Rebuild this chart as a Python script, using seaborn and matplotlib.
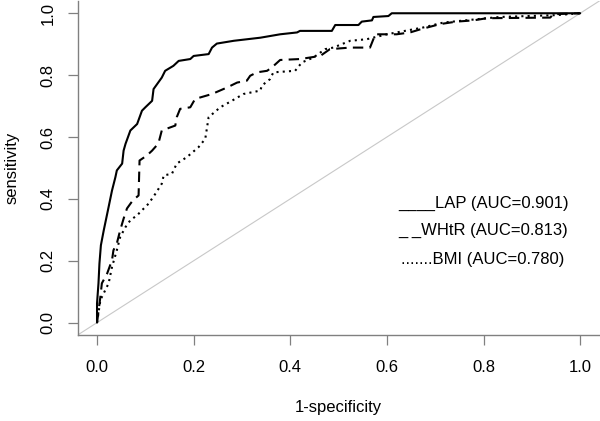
import pandas as pd
import matplotlib
matplotlib.use("Agg")
import matplotlib.pyplot as plt
import seaborn as sns

# ROC points (1-specificity, sensitivity)
lap_fpr = [0, 0, 0.003, 0.005, 0.008, 0.014, 0.024, 0.031, 0.038, 0.041, 0.052, 0.055,
           0.059, 0.069, 0.083, 0.093, 0.100, 0.114, 0.117, 0.134, 0.141, 0.158, 0.169,
           0.193, 0.200, 0.231, 0.238, 0.248, 0.283, 0.338, 0.379, 0.414, 0.420, 0.486,
           0.493, 0.541, 0.548, 0.569, 0.572, 0.603, 0.610, 1.0]
lap_tpr = [0, 0.062, 0.127, 0.191, 0.250, 0.299, 0.374, 0.427, 0.470, 0.492, 0.514, 0.556,
           0.578, 0.621, 0.642, 0.685, 0.696, 0.717, 0.755, 0.792, 0.814, 0.830, 0.846,
           0.852, 0.862, 0.868, 0.889, 0.902, 0.911, 0.921, 0.932, 0.938, 0.943, 0.943,
           0.962, 0.962, 0.973, 0.977, 0.988, 0.991, 1.0, 1.0]

whtr_fpr = [0, 0.007, 0.010, 0.021, 0.031, 0.034, 0.041, 0.048, 0.055, 0.062, 0.074, 0.086,
            0.088, 0.103, 0.114, 0.127, 0.134, 0.162, 0.165, 0.172, 0.193, 0.203, 0.238,
            0.269, 0.290, 0.310, 0.317, 0.331, 0.352, 0.362, 0.379, 0.420, 0.462, 0.482,
            0.524, 0.565, 0.576, 0.620, 0.648, 0.669, 0.710, 0.744, 0.779, 0.807, 0.938,
            0.944, 1.0]
whtr_tpr = [0, 0.084, 0.127, 0.159, 0.202, 0.234, 0.256, 0.299, 0.336, 0.369, 0.395, 0.411,
            0.524, 0.540, 0.556, 0.579, 0.621, 0.637, 0.664, 0.691, 0.696, 0.723, 0.739,
            0.760, 0.776, 0.782, 0.798, 0.809, 0.814, 0.825, 0.849, 0.852, 0.862, 0.884,
            0.889, 0.889, 0.932, 0.932, 0.938, 0.948, 0.965, 0.973, 0.977, 0.984, 0.986,
            0.997, 1.0]

bmi_fpr = [0, 0.007, 0.017, 0.024, 0.031, 0.041, 0.048, 0.059, 0.069, 0.083, 0.093, 0.107,
           0.121, 0.134, 0.138, 0.155, 0.165, 0.186, 0.210, 0.224, 0.231, 0.255, 0.279,
           0.303, 0.338, 0.341, 0.358, 0.365, 0.410, 0.424, 0.448, 0.472, 0.489, 0.524,
           0.558, 0.600, 0.620, 0.675, 0.717, 0.807, 0.834, 0.951, 1.0]
bmi_tpr = [0, 0.073, 0.105, 0.127, 0.180, 0.234, 0.277, 0.309, 0.331, 0.347, 0.363, 0.385,
           0.417, 0.449, 0.476, 0.481, 0.514, 0.535, 0.567, 0.594, 0.664, 0.696, 0.717,
           0.739, 0.750, 0.766, 0.787, 0.809, 0.814, 0.841, 0.857, 0.884, 0.889, 0.911,
           0.916, 0.932, 0.938, 0.954, 0.970, 0.984, 0.988, 0.994, 1.0]

legend_labels = ["____LAP (AUC=0.901)", "_ _WHtR (AUC=0.813)", ".......BMI (AUC=0.780)"]

sns.set_theme(style="white")
plt.rcParams['font.family'] = ['Liberation Sans', 'DejaVu Sans']

fig = plt.figure(figsize=(6, 4.21), dpi=100)
ax = fig.add_axes([0.1295, 0.2043, 0.8697, 0.7936])

grey = '#808080'
ax.axline((0, 0), (1, 1), color='#c8c8c8', lw=0.8, zorder=1)

curves = [
    (lap_fpr, lap_tpr, (None)),
    (whtr_fpr, whtr_tpr, (0, (5, 3))),
    (bmi_fpr, bmi_tpr, (0, (1, 2))),
]
for fpr, tpr, style in curves:
    df = pd.DataFrame({'fpr': fpr, 'tpr': tpr})
    line_kw = {} if style is None else {'linestyle': style}
    sns.lineplot(data=df, x='fpr', y='tpr', estimator=None, sort=False,
                 color='black', lw=1.5, ax=ax, **line_kw)

ax.set_xlim(-0.04, 1.04)
ax.set_ylim(-0.04, 1.04)
ticks = [0.0, 0.2, 0.4, 0.6, 0.8, 1.0]
ax.set_xticks(ticks)
ax.set_yticks(ticks)
ax.set_xticklabels([f"{t:.1f}" for t in ticks])
ax.set_yticklabels([f"{t:.1f}" for t in ticks], rotation=90, va='center')

for side in ['top', 'right']:
    ax.spines[side].set_visible(False)
for side in ['left', 'bottom']:
    ax.spines[side].set_color(grey)
    ax.spines[side].set_linewidth(1.0)

ax.tick_params(axis='both', direction='out', length=7, width=0.9, color=grey,
               labelsize=12, labelcolor='black')
ax.tick_params(axis='x', pad=11, bottom=True)
ax.tick_params(axis='y', pad=9, left=True)

ax.set_xlabel('1-specificity', fontsize=12, color='black')
ax.set_ylabel('sensitivity', fontsize=12, color='black')
ax.xaxis.set_label_coords(0.5 + 0.0, -0.2185)
ax.xaxis.label.set_va('center')
ax.yaxis.set_label_coords(-0.126, 0.5)
ax.yaxis.label.set_va('center')

for label, yv in zip(legend_labels, [0.372, 0.283, 0.191]):
    ax.text(0.799, yv, label, ha='center', va='baseline', fontsize=12, color='black')

fig.savefig('out.png', dpi=100)
